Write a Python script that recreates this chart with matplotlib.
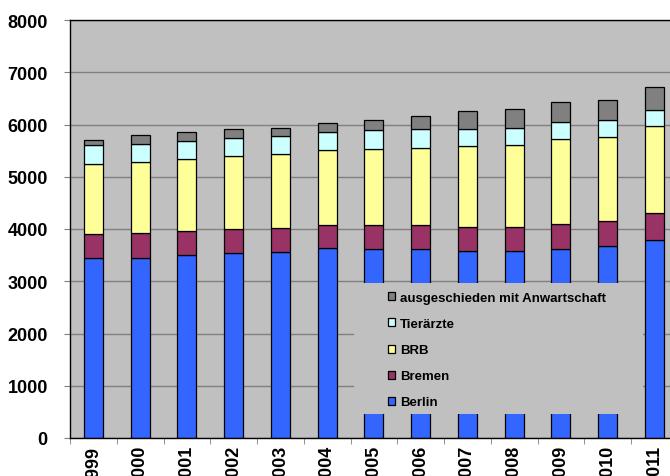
import numpy as np
import matplotlib.pyplot as plt
from matplotlib.patches import Rectangle

plt.rcParams['font.family'] = ['Liberation Sans', 'DejaVu Sans']
plt.rcParams['font.weight'] = 'bold'

years = ['1999', '2000', '2001', '2002', '2003', '2004', '2005',
         '2006', '2007', '2008', '2009', '2010', '2011']
berlin = [3445, 3450, 3510, 3535, 3560, 3630, 3617, 3617, 3580, 3580, 3617, 3680, 3795]
bremen = [459, 467, 458, 459, 459, 453, 460, 460, 458, 452, 485, 473, 505]
brb = [1334, 1365, 1365, 1397, 1410, 1435, 1454, 1480, 1551, 1582, 1620, 1608, 1666]
tieraerzte = [370, 351, 351, 357, 357, 345, 357, 351, 331, 326, 332, 325, 312]
ausgeschieden = [95, 166, 179, 160, 154, 172, 204, 261, 332, 350, 370, 389, 446]

series = [('Berlin', berlin, '#3366FF'),
          ('Bremen', bremen, '#993366'),
          ('BRB', brb, '#FFFF99'),
          ('Tierärzte', tieraerzte, '#CCFFFF'),
          ('ausgeschieden mit Anwartschaft', ausgeschieden, '#808080')]

fig = plt.figure(figsize=(6.7, 4.77), dpi=100)
W, H = 670, 477
# plot area runs past the right edge of the picture like the original
ax = fig.add_axes([70 / W, (H - 439) / H, 607.75 / W, 418 / H])
ax.set_facecolor('#C0C0C0')

x = np.arange(len(years))
bottom = np.zeros(len(years))
handles = []
for name, vals, col in series:
    b = ax.bar(x, vals, 0.41, bottom=bottom, color=col, edgecolor='black',
               linewidth=0.9, label=name, zorder=2)
    handles.append(b)
    bottom += np.array(vals)

ax.set_xlim(-0.5, len(years) - 0.5)
ax.set_ylim(0, 8000)
ax.set_yticks(range(0, 8001, 1000))
ax.yaxis.grid(True, color='#808080', linewidth=1.0, zorder=1)
ax.set_axisbelow(True)

ax.set_xticks(x)
ax.set_xticklabels(years, rotation=90, fontsize=13, fontweight='bold', va='top')
ax.set_xticks(np.arange(-0.5, len(years)), minor=True)
ax.tick_params(axis='x', which='major', length=0, pad=5)
ax.tick_params(axis='x', which='minor', length=4, color='#808080', direction='out')
ax.tick_params(axis='y', length=4, color='#808080', pad=12, labelsize=13)
for lab in ax.get_yticklabels():
    lab.set_fontweight('bold')

for s in ['left', 'bottom', 'top']:
    ax.spines[s].set_color('black')
    ax.spines[s].set_linewidth(1.0)
ax.spines['right'].set_visible(False)

# legend box sits on top of the bars
lx0, lx1 = (354 - 70) / 607.75, (643 - 70) / 607.75
ly0, ly1 = (439 - 415) / 418, (439 - 284) / 418
ax.add_patch(Rectangle((lx0, ly0), lx1 - lx0, ly1 - ly0, transform=ax.transAxes,
                       facecolor='#C0C0C0', edgecolor='none', zorder=5))
leg = ax.legend(handles[::-1], [s[0] for s in series][::-1],
                loc='upper left', bbox_to_anchor=((388 - 70) / 607.75, (439 - 293) / 418),
                frameon=False, borderpad=0, borderaxespad=0,
                prop={'size': 9.5, 'weight': 'bold'},
                handlelength=0.55, handleheight=0.55, handletextpad=0.35,
                labelspacing=1.07)
leg.set_zorder(6)

fig.savefig('out.png', dpi=100)
